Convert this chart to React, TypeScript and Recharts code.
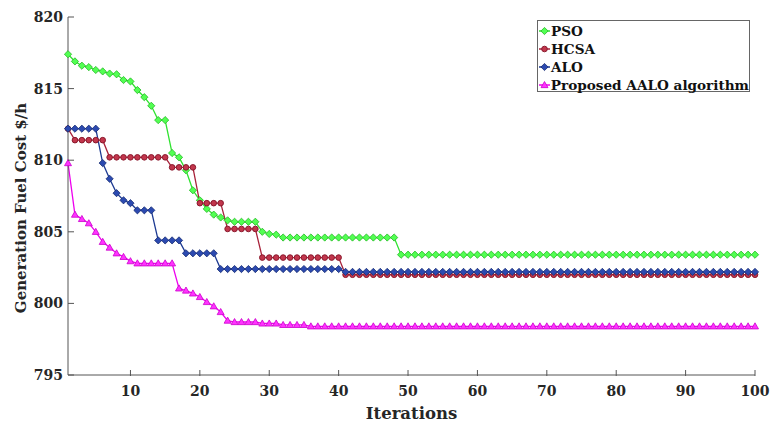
import React from "react";
import { LineChart, Line, XAxis, YAxis } from "recharts";

// convergence curves, one value per iteration (1..100)
const psoCost = [
  817.4, 816.9, 816.6, 816.5, 816.3, 816.2, 816.05, 816.0, 815.6, 815.5,
  814.9, 814.4, 813.8, 812.8, 812.8, 810.5, 810.2, 809.3, 807.9, 807.2,
  806.6, 806.2, 806.0, 805.8, 805.7, 805.7, 805.7, 805.7, 805.0, 804.85,
  804.8, 804.6, 804.6, 804.6, 804.6, 804.6, 804.6, 804.6, 804.6, 804.6,
  804.6, 804.6, 804.6, 804.6, 804.6, 804.6, 804.6, 804.6, 803.4, 803.4,
  803.4, 803.4, 803.4, 803.4, 803.4, 803.4, 803.4, 803.4, 803.4, 803.4,
  803.4, 803.4, 803.4, 803.4, 803.4, 803.4, 803.4, 803.4, 803.4, 803.4,
  803.4, 803.4, 803.4, 803.4, 803.4, 803.4, 803.4, 803.4, 803.4, 803.4,
  803.4, 803.4, 803.4, 803.4, 803.4, 803.4, 803.4, 803.4, 803.4, 803.4,
  803.4, 803.4, 803.4, 803.4, 803.4, 803.4, 803.4, 803.4, 803.4, 803.4,
];
const hcsaCost = [
  812.2, 811.4, 811.4, 811.4, 811.4, 811.4, 810.2, 810.2, 810.2, 810.2,
  810.2, 810.2, 810.2, 810.2, 810.2, 809.5, 809.5, 809.5, 809.5, 807.0,
  807.0, 807.0, 807.0, 805.2, 805.2, 805.2, 805.2, 805.2, 803.2, 803.2,
  803.2, 803.2, 803.2, 803.2, 803.2, 803.2, 803.2, 803.2, 803.2, 803.2,
  802.0, 802.0, 802.0, 802.0, 802.0, 802.0, 802.0, 802.0, 802.0, 802.0,
  802.0, 802.0, 802.0, 802.0, 802.0, 802.0, 802.0, 802.0, 802.0, 802.0,
  802.0, 802.0, 802.0, 802.0, 802.0, 802.0, 802.0, 802.0, 802.0, 802.0,
  802.0, 802.0, 802.0, 802.0, 802.0, 802.0, 802.0, 802.0, 802.0, 802.0,
  802.0, 802.0, 802.0, 802.0, 802.0, 802.0, 802.0, 802.0, 802.0, 802.0,
  802.0, 802.0, 802.0, 802.0, 802.0, 802.0, 802.0, 802.0, 802.0, 802.0,
];
const aloCost = [
  812.2, 812.2, 812.2, 812.2, 812.2, 809.8, 808.7, 807.7, 807.2, 807.0,
  806.5, 806.5, 806.5, 804.4, 804.4, 804.4, 804.4, 803.5, 803.5, 803.5,
  803.5, 803.5, 802.4, 802.4, 802.4, 802.4, 802.4, 802.4, 802.4, 802.4,
  802.4, 802.4, 802.4, 802.4, 802.4, 802.4, 802.4, 802.4, 802.4, 802.4,
  802.2, 802.2, 802.2, 802.2, 802.2, 802.2, 802.2, 802.2, 802.2, 802.2,
  802.2, 802.2, 802.2, 802.2, 802.2, 802.2, 802.2, 802.2, 802.2, 802.2,
  802.2, 802.2, 802.2, 802.2, 802.2, 802.2, 802.2, 802.2, 802.2, 802.2,
  802.2, 802.2, 802.2, 802.2, 802.2, 802.2, 802.2, 802.2, 802.2, 802.2,
  802.2, 802.2, 802.2, 802.2, 802.2, 802.2, 802.2, 802.2, 802.2, 802.2,
  802.2, 802.2, 802.2, 802.2, 802.2, 802.2, 802.2, 802.2, 802.2, 802.2,
];
const aaloCost = [
  809.8, 806.2, 805.9, 805.6, 805.0, 804.3, 803.9, 803.5, 803.25, 802.95,
  802.8, 802.8, 802.8, 802.8, 802.8, 802.8, 801.05, 800.9, 800.7, 800.45,
  800.1, 799.8, 799.4, 798.8, 798.7, 798.7, 798.7, 798.7, 798.6, 798.6,
  798.6, 798.5, 798.5, 798.5, 798.5, 798.4, 798.4, 798.4, 798.4, 798.4,
  798.4, 798.4, 798.4, 798.4, 798.4, 798.4, 798.4, 798.4, 798.4, 798.4,
  798.4, 798.4, 798.4, 798.4, 798.4, 798.4, 798.4, 798.4, 798.4, 798.4,
  798.4, 798.4, 798.4, 798.4, 798.4, 798.4, 798.4, 798.4, 798.4, 798.4,
  798.4, 798.4, 798.4, 798.4, 798.4, 798.4, 798.4, 798.4, 798.4, 798.4,
  798.4, 798.4, 798.4, 798.4, 798.4, 798.4, 798.4, 798.4, 798.4, 798.4,
  798.4, 798.4, 798.4, 798.4, 798.4, 798.4, 798.4, 798.4, 798.4, 798.4,
];

const xTicks = [10, 20, 30, 40, 50, 60, 70, 80, 90, 100];
const yTicks = [795, 800, 805, 810, 815, 820];

const data = psoCost.map((v, i) => ({
  it: i + 1,
  pso: v,
  hcsa: hcsaCost[i],
  alo: aloCost[i],
  aalo: aaloCost[i],
}));

const FONT = "'DejaVu Serif', 'Liberation Serif', serif";
const AXIS = "#555";
const TXT = "#262626";
const GAP = 9; // tick label gap
const TL = 6; // tick length (inward)

const series = [
  { key: "pso", name: "PSO", line: "#2fe22f", fill: "#52ff52", edge: "#23b823", shape: "diamond" },
  { key: "hcsa", name: "HCSA", line: "#a8223a", fill: "#c2364c", edge: "#8a1a2e", shape: "circle" },
  { key: "alo", name: "ALO", line: "#1d3a92", fill: "#2c4ab0", edge: "#162c72", shape: "diamond" },
  { key: "aalo", name: "Proposed AALO algorithm", line: "#ee00ee", fill: "#ff33ff", edge: "#cc00cc", shape: "triangle" },
];

function Marker({ cx, cy, shape, fill, edge }: any) {
  if (cx == null || cy == null) return null;
  if (shape === "circle") return <circle cx={cx} cy={cy} r={2.8} fill={fill} stroke={edge} strokeWidth={1} />;
  if (shape === "triangle") {
    const r = 3.5;
    return <polygon points={`${cx},${cy - r} ${cx + r},${cy + r * 0.75} ${cx - r},${cy + r * 0.75}`} fill={fill} stroke={edge} strokeWidth={0.8} />;
  }
  const r = 3.6;
  return <polygon points={`${cx},${cy - r} ${cx + r},${cy} ${cx},${cy + r} ${cx - r},${cy}`} fill={fill} stroke={edge} strokeWidth={0.8} />;
}

const XTick = ({ x, y, payload }: any) => (
  <g>
    <line x1={x} x2={x} y1={y - GAP} y2={y - GAP - TL} stroke={AXIS} />
    <text x={x} y={y} dy="0.75em" textAnchor="middle" fontFamily={FONT} fontWeight="bold" fontSize={14} fill={TXT}>
      {payload.value}
    </text>
  </g>
);
const YTick = ({ x, y, payload }: any) => (
  <g>
    <line x1={x + GAP - 4} x2={x + GAP - 4 + TL} y1={y} y2={y} stroke={AXIS} />
    <text x={x} y={y} dy="0.36em" textAnchor="end" fontFamily={FONT} fontWeight="bold" fontSize={14} fill={TXT}>
      {payload.value}
    </text>
  </g>
);
const TopTick = ({ x, y }: any) => <line x1={x} x2={x} y1={y} y2={y + TL} stroke={AXIS} />;
const RightTick = ({ x, y }: any) => <line x1={x} x2={x - TL} y1={y} y2={y} stroke={AXIS} />;

function LegendBox() {
  return (
    <div
      style={{
        position: "absolute", left: 537, top: 20, width: 213, height: 72,
        border: "1px solid #666", background: "#fff", boxSizing: "border-box",
        fontFamily: FONT, fontWeight: "bold", fontSize: 13.6, color: "#111", paddingTop: 1,
      }}
    >
      {series.map((s) => (
        <div key={s.key} style={{ display: "flex", alignItems: "center", height: 18 }}>
          <svg width={13} height={12} style={{ marginLeft: 0 }}>
            <line x1={1} x2={12} y1={6} y2={6} stroke={s.line} strokeWidth={1.5} />
            <Marker cx={6.5} cy={6} shape={s.shape} fill={s.fill} edge={s.edge} />
          </svg>
          <span style={{ whiteSpace: "nowrap", lineHeight: "18px" }}>{s.name}</span>
        </div>
      ))}
    </div>
  );
}

export default function App() {
  return (
    <div style={{ position: "absolute", left: 0, top: 0, width: 772, height: 423, background: "#fff" }}>
      <LineChart width={772} height={423} data={data} margin={{ top: 17, right: 17, bottom: 0, left: 0 }}>
        <XAxis
          dataKey="it" type="number" domain={[1, 100]} ticks={xTicks} interval={0}
          height={48} tickSize={0} tickMargin={GAP + 1} tick={<XTick />}
          axisLine={{ stroke: AXIS }}
          label={{ value: "Iterations", position: "insideBottom", offset: 4, fill: TXT, fontFamily: FONT, fontWeight: "bold", fontSize: 16.5 }}
        />
        <XAxis
          xAxisId="top" orientation="top" dataKey="it" type="number" domain={[1, 100]} ticks={xTicks}
          interval={0} height={0} tickSize={0} tickMargin={0} tick={<TopTick />} axisLine={{ stroke: AXIS }}
        />
        <YAxis
          type="number" domain={[795, 820]} ticks={yTicks} interval={0} width={68}
          tickSize={0} tickMargin={GAP - 4} tick={<YTick />} axisLine={{ stroke: AXIS }}
          label={({ viewBox }: any) => (
            <text
              transform={`translate(21, ${viewBox.y + viewBox.height / 2 + 12}) rotate(-90)`}
              textAnchor="middle" dominantBaseline="central"
              fontFamily={FONT} fontWeight="bold" fontSize={15} fill={TXT}
            >
              Generation Fuel Cost $/h
            </text>
          )}
        />
        <YAxis
          yAxisId="right" orientation="right" type="number" domain={[795, 820]} ticks={yTicks}
          interval={0} width={0} tickSize={0} tickMargin={0} tick={<RightTick />} axisLine={{ stroke: AXIS }}
        />
        {series.map((s) => (
          <Line
            key={s.key} dataKey={s.key} name={s.name} type="linear" stroke={s.line} strokeWidth={1.3}
            isAnimationActive={false}
            dot={(p: any) => <Marker key={`${s.key}-${p.index}`} cx={p.cx} cy={p.cy} shape={s.shape} fill={s.fill} edge={s.edge} />}
            activeDot={false}
          />
        ))}
      </LineChart>
      <LegendBox />
    </div>
  );
}
